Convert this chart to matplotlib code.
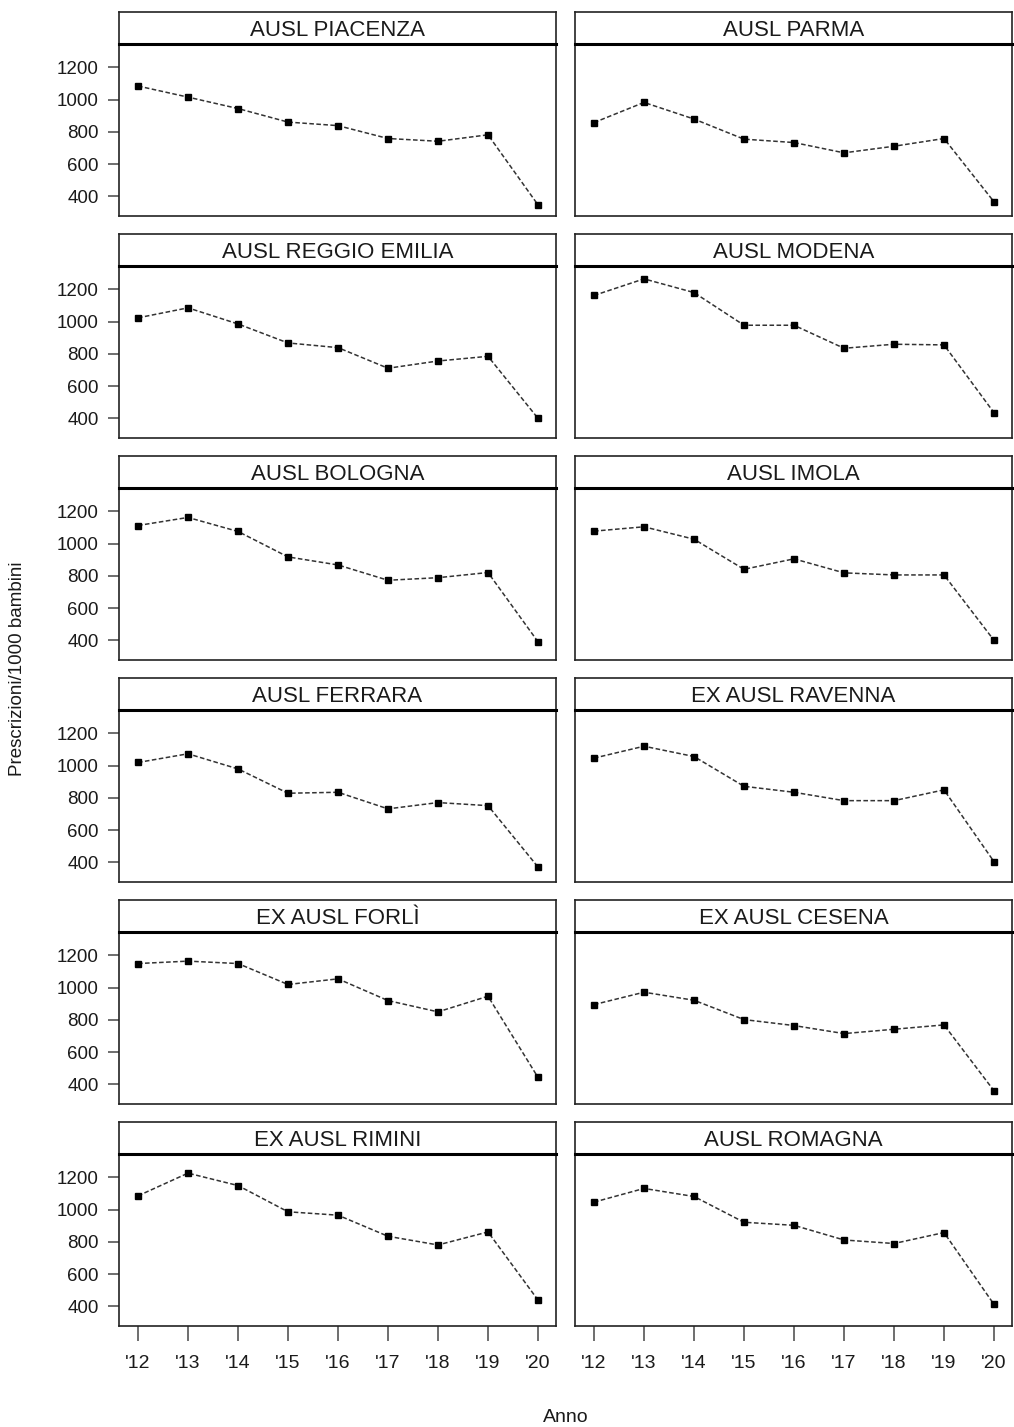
import matplotlib
matplotlib.use("Agg")
import matplotlib.pyplot as plt

plt.rcParams['font.family'] = ['Liberation Sans', 'DejaVu Sans']

# Data: prescrizioni ogni 1000 bambini, anni 2012-2020
anni = [2012, 2013, 2014, 2015, 2016, 2017, 2018, 2019, 2020]
etichette_anni = ["'12", "'13", "'14", "'15", "'16", "'17", "'18", "'19", "'20"]

piacenza = [1085, 1016, 945, 861, 839, 759, 742, 782, 347]
parma = [858, 983, 880, 755, 734, 670, 711, 759, 366]
reggio_emilia = [1024, 1086, 986, 868, 839, 711, 756, 785, 400]
modena = [1163, 1266, 1181, 978, 978, 835, 860, 856, 435]
bologna = [1113, 1163, 1076, 918, 868, 773, 789, 821, 391]
imola = [1078, 1105, 1028, 841, 906, 819, 806, 806, 400]
ferrara = [1020, 1074, 980, 829, 835, 732, 771, 752, 371]
ravenna = [1047, 1121, 1057, 872, 835, 783, 783, 850, 404]
forli = [1150, 1165, 1150, 1020, 1055, 920, 850, 947, 443]
cesena = [895, 972, 922, 802, 765, 715, 742, 769, 360]
rimini = [1086, 1227, 1150, 987, 966, 835, 781, 862, 439]
romagna = [1047, 1132, 1082, 922, 903, 812, 790, 858, 412]

pannelli = [
    ("AUSL PIACENZA", piacenza), ("AUSL PARMA", parma),
    ("AUSL REGGIO EMILIA", reggio_emilia), ("AUSL MODENA", modena),
    ("AUSL BOLOGNA", bologna), ("AUSL IMOLA", imola),
    ("AUSL FERRARA", ferrara), ("EX AUSL RAVENNA", ravenna),
    ("EX AUSL FORLÌ", forli), ("EX AUSL CESENA", cesena),
    ("EX AUSL RIMINI", rimini), ("AUSL ROMAGNA", romagna),
]

W, H = 1014, 1427
fig = plt.figure(figsize=(W / 100, H / 100), dpi=100)

col_x = [119, 575]
pw = 437
hdr = 32
plot_h = 172
pitch = 222
top0 = 12.3
testo = '#1a1a1a'

for k, (nome, valori) in enumerate(pannelli):
    r, c = divmod(k, 2)
    x0 = col_x[c]
    h_top = top0 + pitch * r
    h_bot = h_top + hdr
    p_bot = h_bot + plot_h

    ax = fig.add_axes([x0 / W, 1 - p_bot / H, pw / W, plot_h / H])
    ax.plot(anni, valori, linestyle=(0, (3, 1.6)), color='#333333', lw=1.1,
            marker='s', markersize=5, markerfacecolor='black',
            markeredgecolor='black')
    ax.set_xlim(2011.62, 2020.36)
    ax.set_ylim(276, 1344)
    for s in ax.spines.values():
        s.set_linewidth(1.2)
        s.set_color('#222222')

    ax.set_yticks([400, 600, 800, 1000, 1200])
    ax.set_xticks(anni)
    if c == 0:
        ax.tick_params(axis='y', length=8, width=1.2, color='#555555',
                       labelsize=13.5, labelcolor=testo, pad=6.5)
    else:
        ax.tick_params(axis='y', left=False, labelleft=False)
    if r == 5:
        ax.set_xticklabels(etichette_anni)
        ax.tick_params(axis='x', length=10.5, width=1.2, color='#555555',
                       labelsize=14, labelcolor=testo, pad=10)
    else:
        ax.tick_params(axis='x', bottom=False, labelbottom=False)

    # strip header
    axh = fig.add_axes([x0 / W, 1 - h_bot / H, pw / W, hdr / H])
    axh.set_xticks([])
    axh.set_yticks([])
    for s in axh.spines.values():
        s.set_linewidth(1.2)
        s.set_color('#222222')
    axh.spines['bottom'].set_linewidth(2.2)
    axh.spines['bottom'].set_color('black')
    axh.text(0.5, 0.44, nome, ha='center', va='center', fontsize=16,
             color=testo, transform=axh.transAxes)

fig.text(565.5 / W, 1 - 1417 / H, 'Anno', ha='center', va='center',
         fontsize=14, color=testo)
fig.text(18 / W, 1 - 669 / H, 'Prescrizioni/1000 bambini', ha='center',
         va='center', rotation=90, fontsize=13.5, color=testo)

fig.savefig('out.png', dpi=100, facecolor='white')
